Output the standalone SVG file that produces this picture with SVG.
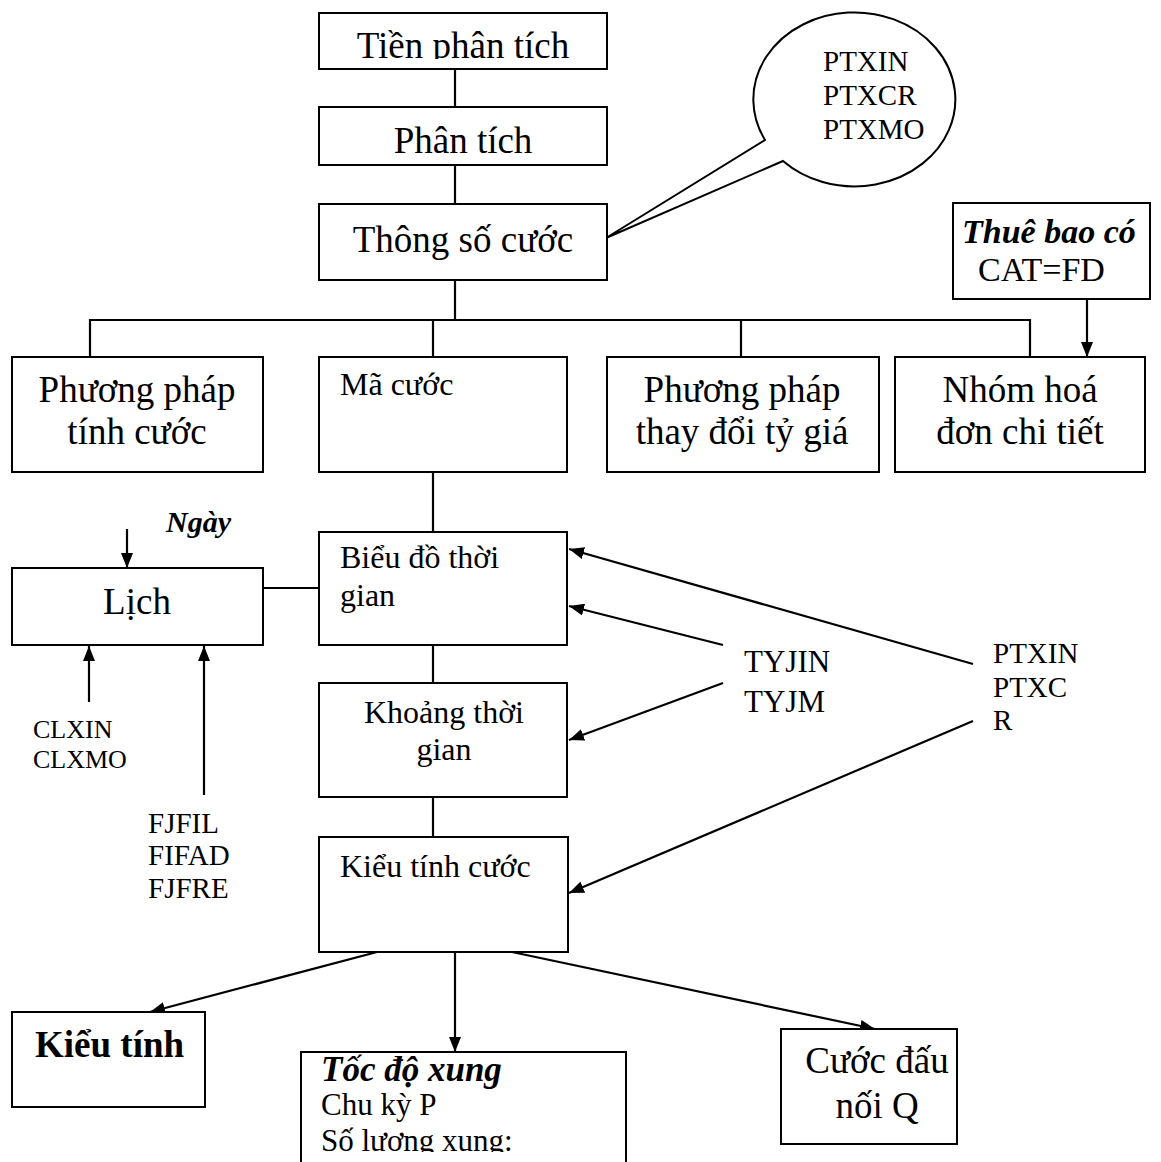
<svg xmlns="http://www.w3.org/2000/svg" width="1161" height="1162" viewBox="0 0 1161 1162">
  <style>
    .box { fill: #fff; stroke: #000; stroke-width: 2; }
    .ln { fill: none; stroke: #000; stroke-width: 2.2; }
    .t { font-family: "Liberation Serif", "Times New Roman", serif; fill: #000; }
    .big { font-size: 37px; }
    .mid { font-size: 34px; }
    .box-txt { font-size: 32px; }
    .lbl { font-size: 29px; }
    .xs { font-size: 26px; }
    .c { text-anchor: middle; }
    .bi { font-weight: bold; font-style: italic; }
    .b { font-weight: bold; }
  </style>
  <defs>
    <marker id="arrow" markerUnits="userSpaceOnUse" markerWidth="16" markerHeight="12" refX="15" refY="6" orient="auto">
      <path d="M0,0 L15,6 L0,12 z" fill="#000"/>
    </marker>
    <clipPath id="clipTop"><rect x="0" y="0" width="1161" height="59"/></clipPath>
    <clipPath id="clipBottom"><rect x="0" y="0" width="1161" height="1152"/></clipPath>
  </defs>
  <rect width="1161" height="1162" fill="#fff"/>

  <!-- connectors -->
  <g id="connectors">
    <line class="ln" x1="455" y1="69" x2="455" y2="107"/>
    <line class="ln" x1="455" y1="165" x2="455" y2="204"/>
    <line class="ln" x1="455" y1="280" x2="455" y2="320"/>
    <polyline class="ln" points="90,357 90,320 1030,320 1030,357"/>
    <line class="ln" x1="433" y1="320" x2="433" y2="357"/>
    <line class="ln" x1="741" y1="320" x2="741" y2="357"/>
    <line class="ln" x1="1087" y1="299" x2="1087" y2="357" marker-end="url(#arrow)"/>
    <line class="ln" x1="433" y1="472" x2="433" y2="532"/>
    <line class="ln" x1="263" y1="588" x2="319" y2="588"/>
    <line class="ln" x1="433" y1="645" x2="433" y2="683"/>
    <line class="ln" x1="433" y1="797" x2="433" y2="837"/>
    <line class="ln" x1="127" y1="529" x2="127" y2="568" marker-end="url(#arrow)"/>
    <line class="ln" x1="89" y1="702" x2="89" y2="646" marker-end="url(#arrow)"/>
    <line class="ln" x1="204" y1="795" x2="204" y2="646" marker-end="url(#arrow)"/>
    <line class="ln" x1="973" y1="664" x2="569" y2="549" marker-end="url(#arrow)"/>
    <line class="ln" x1="723" y1="645" x2="569" y2="606" marker-end="url(#arrow)"/>
    <line class="ln" x1="723" y1="683" x2="569" y2="740" marker-end="url(#arrow)"/>
    <line class="ln" x1="973" y1="721" x2="569" y2="893" marker-end="url(#arrow)"/>
    <line class="ln" x1="377" y1="952" x2="150" y2="1012" marker-end="url(#arrow)"/>
    <line class="ln" x1="455" y1="952" x2="455" y2="1052" marker-end="url(#arrow)"/>
    <line class="ln" x1="512" y1="952" x2="875" y2="1029" marker-end="url(#arrow)"/>
  </g>

  <!-- speech bubble with the PTX commands -->
  <g id="callout">
    <path class="box" d="M765,140 A101,87 0 1 1 783,161 L606,238 Z"/>
    <text class="t lbl" x="823" y="71">PTXIN</text>
    <text class="t lbl" x="823" y="105">PTXCR</text>
    <text class="t lbl" x="823" y="139">PTXMO</text>
  </g>

  <g id="tien-phan-tich">
    <rect class="box" x="319" y="13" width="288" height="56"/>
    <text class="t big c" x="463" y="58" clip-path="url(#clipTop)">Tiền phân tích</text>
  </g>
  <g id="phan-tich">
    <rect class="box" x="319" y="107" width="288" height="58"/>
    <text class="t big c" x="463" y="153">Phân tích</text>
  </g>
  <g id="thong-so-cuoc">
    <rect class="box" x="319" y="204" width="288" height="76"/>
    <text class="t big c" x="463" y="252">Thông số cước</text>
  </g>
  <g id="thue-bao">
    <rect class="box" x="953" y="203" width="197" height="96"/>
    <text class="t mid bi" x="962" y="243">Thuê bao có</text>
    <text class="t mid" x="978" y="281">CAT=FD</text>
  </g>

  <g id="phuong-phap-tinh-cuoc">
    <rect class="box" x="12" y="357" width="251" height="115"/>
    <text class="t big c" x="137" y="402">Phương pháp</text>
    <text class="t big c" x="137" y="444">tính cước</text>
  </g>
  <g id="ma-cuoc">
    <rect class="box" x="319" y="357" width="248" height="115"/>
    <text class="t box-txt" x="340" y="395">Mã cước</text>
  </g>
  <g id="phuong-phap-ty-gia">
    <rect class="box" x="607" y="357" width="272" height="115"/>
    <text class="t big c" x="742" y="402">Phương pháp</text>
    <text class="t big c" x="742" y="444">thay đổi tỷ giá</text>
  </g>
  <g id="nhom-hoa-don">
    <rect class="box" x="895" y="357" width="250" height="115"/>
    <text class="t big c" x="1020" y="402">Nhóm hoá</text>
    <text class="t big c" x="1020" y="444">đơn chi tiết</text>
  </g>

  <g id="lich">
    <rect class="box" x="12" y="568" width="251" height="77"/>
    <text class="t big c" x="137" y="614">Lịch</text>
    <text class="t bi" x="166" y="532" font-size="30">Ngày</text>
    <text class="t xs" x="33" y="738">CLXIN</text>
    <text class="t xs" x="33" y="768">CLXMO</text>
    <text class="t lbl" x="148" y="833">FJFIL</text>
    <text class="t lbl" x="148" y="865">FIFAD</text>
    <text class="t lbl" x="148" y="898">FJFRE</text>
  </g>

  <g id="bieu-do-thoi-gian">
    <rect class="box" x="319" y="532" width="248" height="113"/>
    <text class="t box-txt" x="340" y="568">Biểu đồ thời</text>
    <text class="t box-txt" x="340" y="606">gian</text>
  </g>
  <g id="khoang-thoi-gian">
    <rect class="box" x="319" y="683" width="248" height="114"/>
    <text class="t box-txt c" x="444" y="723">Khoảng thời</text>
    <text class="t box-txt c" x="444" y="760">gian</text>
  </g>
  <g id="kieu-tinh-cuoc">
    <rect class="box" x="319" y="837" width="249" height="115"/>
    <text class="t box-txt" x="340" y="877">Kiểu tính cước</text>
  </g>

  <g id="tyj-labels">
    <text class="t" font-size="31" x="744" y="672">TYJIN</text>
    <text class="t" font-size="31" x="744" y="712">TYJM</text>
  </g>
  <g id="ptx-labels">
    <text class="t lbl" x="993" y="663">PTXIN</text>
    <text class="t lbl" x="993" y="697">PTXC</text>
    <text class="t lbl" x="993" y="730">R</text>
  </g>

  <g id="kieu-tinh">
    <rect class="box" x="12" y="1012" width="193" height="95"/>
    <text class="t big b" x="35" y="1057">Kiểu tính</text>
  </g>
  <g id="toc-do-xung">
    <rect class="box" x="301" y="1052" width="325" height="130"/>
    <g clip-path="url(#clipBottom)">
      <text class="t bi" font-size="35" x="321" y="1081">Tốc độ xung</text>
      <text class="t" font-size="31" x="321" y="1115">Chu kỳ P</text>
      <text class="t" font-size="31" x="321" y="1151">Số lương xung:</text>
    </g>
  </g>
  <g id="cuoc-dau-noi">
    <rect class="box" x="781" y="1029" width="176" height="115"/>
    <text class="t big c" x="877" y="1073">Cước đấu</text>
    <text class="t big c" x="877" y="1118">nối Q</text>
  </g>
</svg>
